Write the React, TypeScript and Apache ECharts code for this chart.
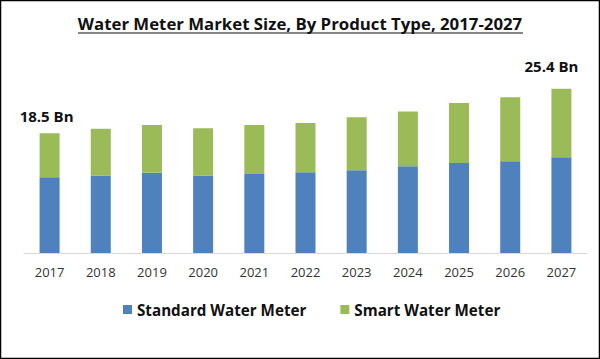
import React, { useEffect, useRef } from "react";
import * as echarts from "echarts";

const years = ["2017", "2018", "2019", "2020", "2021", "2022", "2023", "2024", "2025", "2026", "2027"];
const standardWater = [11.7, 12.0, 12.4, 12.0, 12.2, 12.5, 12.8, 13.4, 13.9, 14.2, 14.8];
const smartWater = [6.8, 7.2, 7.4, 7.3, 7.6, 7.6, 8.2, 8.5, 9.3, 9.9, 10.6];
const labelledYears = ["2017", "2027"];

const FONT = "'Open Sans', sans-serif";

export default function App() {
  const ref = useRef<HTMLDivElement>(null);
  useEffect(() => {
    document.body.style.margin = "0";
    const chart = echarts.init(ref.current!, null, { renderer: "svg" });
    const smartData = smartWater.map((v, i) => {
      if (!labelledYears.includes(years[i])) return v;
      const first = i === 0;
      return {
        value: v,
        label: {
          show: true,
          position: "top",
          distance: first ? 10 : 15,
          offset: first ? [-3, 0] : [-10, 0],
          formatter: () => (standardWater[i] + smartWater[i]).toFixed(1) + " Bn",
          fontFamily: FONT,
          fontWeight: "bold",
          fontSize: 15,
          color: "#111",
        },
      };
    });
    chart.setOption({
      animation: false,
      backgroundColor: "#fff",
      title: {
        text: "Water Meter Market Size, By Product Type, 2017-2027",
        left: "center",
        top: 10,
        textStyle: { fontFamily: FONT, fontWeight: "bold", fontSize: 16.8, color: "#111" },
      },
      graphic: [
        {
          type: "rect",
          shape: { x: 0.5, y: 0.5, width: 599, height: 358 },
          style: { fill: "none", stroke: "#000", lineWidth: 1.5 },
          silent: true,
        },
        {
          type: "line",
          shape: { x1: 78, y1: 33, x2: 523, y2: 33 },
          style: { stroke: "#111", lineWidth: 1.2 },
          silent: true,
        },
      ],
      legend: {
        top: 297,
        left: 118,
        itemWidth: 9,
        itemHeight: 9,
        itemGap: 34,
        icon: "rect",
        textStyle: { fontFamily: FONT, fontWeight: "bold", fontSize: 15.2, color: "#111" },
        data: ["Standard Water Meter", "Smart Water Meter"],
      },
      grid: { left: 24, right: 13, top: 59, bottom: 106, containLabel: false },
      xAxis: {
        type: "category",
        data: years,
        axisTick: { show: false },
        axisLine: { lineStyle: { color: "#d9d9d9", width: 1 } },
        axisLabel: { fontFamily: FONT, fontSize: 13, color: "#333", margin: 12 },
      },
      yAxis: {
        type: "value",
        min: 0,
        max: 30,
        show: false,
        splitLine: { show: false },
      },
      series: [
        {
          name: "Standard Water Meter",
          type: "bar",
          stack: "total",
          barWidth: 20,
          itemStyle: { color: "#4F81BD" },
          data: standardWater,
        },
        {
          name: "Smart Water Meter",
          type: "bar",
          stack: "total",
          barWidth: 20,
          itemStyle: { color: "#9BBB59" },
          data: smartData,
        },
      ],
    });
    return () => chart.dispose();
  }, []);
  return <div ref={ref} style={{ width: 600, height: 359 }} />;
}
